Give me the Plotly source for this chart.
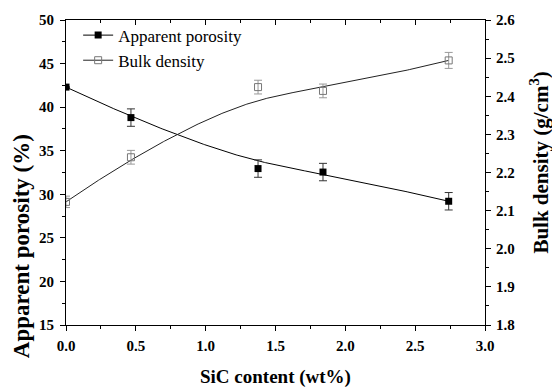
import numpy as np
import plotly.graph_objects as go

# ---- data ----
sic = [0.0, 0.465, 1.375, 1.84, 2.74]
porosity = [42.3, 38.8, 32.95, 32.55, 29.2]
porosity_err = [0.0, 1.0, 1.0, 1.0, 1.0]
density = [2.123, 2.24, 2.424, 2.414, 2.494]
density_err = [0.015, 0.018, 0.018, 0.018, 0.021]

x_ticks = [0.0, 0.5, 1.0, 1.5, 2.0, 2.5, 3.0]
y1_ticks = [15, 20, 25, 30, 35, 40, 45, 50]
y2_ticks = [1.8, 1.9, 2.0, 2.1, 2.2, 2.3, 2.4, 2.5, 2.6]


def bspline(px, py, n=300, k=3):
    """Clamped uniform B-spline using the data points as control points."""
    P = np.column_stack([px, py]).astype(float)
    m = len(P)
    inner = np.linspace(0, 1, m - k + 1)
    knots = np.concatenate([[0] * k, inner, [1] * k])
    us = np.linspace(0, 1, n)
    out = []
    for u in us:
        if u >= 1:
            out.append(P[-1]); continue
        s = np.searchsorted(knots, u, side='right') - 1
        d = [P[j + s - k].copy() for j in range(k + 1)]
        for r in range(1, k + 1):
            for j in range(k, r - 1, -1):
                i = j + s - k
                a = (u - knots[i]) / (knots[i + k + 1 - r] - knots[i])
                d[j] = (1 - a) * d[j - 1] + a * d[j]
        out.append(d[k])
    out = np.array(out)
    return out[:, 0], out[:, 1]


px_c, py_c = bspline(sic, porosity)
dx_c, dy_c = bspline(sic, density)

FONT = "Times New Roman, Liberation Serif, serif"
fig = go.Figure()

# curves
fig.add_trace(go.Scatter(x=px_c, y=py_c, mode="lines", line=dict(color="black", width=1),
                         showlegend=False, hoverinfo="skip"))
fig.add_trace(go.Scatter(x=dx_c, y=dy_c, mode="lines", line=dict(color="#222", width=1),
                         yaxis="y2", showlegend=False, hoverinfo="skip"))
# markers with error bars
fig.add_trace(go.Scatter(x=sic, y=porosity, mode="markers",
                         marker=dict(symbol="square", size=7, color="black"),
                         error_y=dict(type="data", array=porosity_err, color="#333", thickness=1, width=4),
                         showlegend=False))
fig.add_trace(go.Scatter(x=sic, y=density, mode="markers", yaxis="y2",
                         marker=dict(symbol="square-open", size=7, color="#777", line=dict(width=1)),
                         error_y=dict(type="data", array=density_err, color="#999", thickness=1, width=4),
                         showlegend=False))
# legend entries
fig.add_trace(go.Scatter(x=[None], y=[None], mode="lines+markers", name="Apparent porosity",
                         line=dict(color="black", width=1),
                         marker=dict(symbol="square", size=7, color="black")))
fig.add_trace(go.Scatter(x=[None], y=[None], mode="lines+markers", name="Bulk density",
                         line=dict(color="#222", width=1),
                         marker=dict(symbol="square-open", size=7, color="#777", line=dict(width=1))))
# top mirror axis (inside ticks)
fig.add_trace(go.Scatter(x=[None], y=[None], xaxis="x2", showlegend=False))

tickfont = dict(family=FONT, size=15, color="black", weight="bold")
fig.update_layout(
    width=552, height=388,
    margin=dict(l=66, r=67, t=14, b=63),
    plot_bgcolor="white", paper_bgcolor="white",
    xaxis=dict(range=[0, 3], tickvals=x_ticks, ticktext=[f"{v:.1f}" for v in x_ticks],
               ticks="outside", ticklen=5, tickcolor="black", tickwidth=1,
               minor=dict(dtick=0.25, ticks="outside", ticklen=3, tickcolor="black"),
               showline=True, linecolor="black", linewidth=1, showgrid=False, zeroline=False,
               tickfont=tickfont, ticklabelstandoff=2),
    xaxis2=dict(range=[0, 3], overlaying="x", side="top", tickvals=x_ticks,
                ticks="inside", ticklen=5, tickcolor="black", showticklabels=False,
                minor=dict(dtick=0.25, ticks="inside", ticklen=3, tickcolor="black"),
                showline=True, linecolor="black", linewidth=1, showgrid=False, zeroline=False),
    yaxis=dict(range=[15, 50], tickvals=y1_ticks,
               ticks="outside", ticklen=5, tickcolor="black",
               minor=dict(dtick=2.5, ticks="outside", ticklen=3, tickcolor="black"),
               showline=True, linecolor="black", linewidth=1, showgrid=False, zeroline=False,
               tickfont=tickfont, ticklabelstandoff=3),
    yaxis2=dict(range=[1.8, 2.6], overlaying="y", side="right", tickvals=y2_ticks,
                ticktext=[f"{v:.1f}" for v in y2_ticks],
                ticks="outside", ticklen=5, tickcolor="black",
                minor=dict(dtick=0.05, ticks="outside", ticklen=3, tickcolor="black"),
                showline=True, linecolor="black", linewidth=1, showgrid=False, zeroline=False,
                tickfont=tickfont, ticklabelstandoff=2),
    legend=dict(x=0.029, y=1.008, xanchor="left", yanchor="top", bgcolor="rgba(0,0,0,0)",
                font=dict(family=FONT, size=17, color="black"), tracegroupgap=0,
                itemwidth=30),
    showlegend=True,
)

fig.add_annotation(text="SiC content (wt%)", xref="paper", yref="paper", x=0.5, y=-0.17,
                   xanchor="center", yanchor="middle", showarrow=False,
                   font=dict(family=FONT, size=19, color="black", weight="bold"))
fig.add_annotation(text="Apparent porosity (%)", xref="paper", yref="paper", x=-0.107, y=0.259,
                   xanchor="center", yanchor="middle", showarrow=False, textangle=-90,
                   font=dict(family=FONT, size=23, color="black", weight="bold"))
fig.add_annotation(text="Bulk density (g/cm<sup>3</sup>)", xref="paper", yref="paper", x=1.13, y=0.534,
                   xanchor="center", yanchor="middle", showarrow=False, textangle=-90,
                   font=dict(family=FONT, size=21, color="black", weight="bold"))

fig.write_html("out.html")
